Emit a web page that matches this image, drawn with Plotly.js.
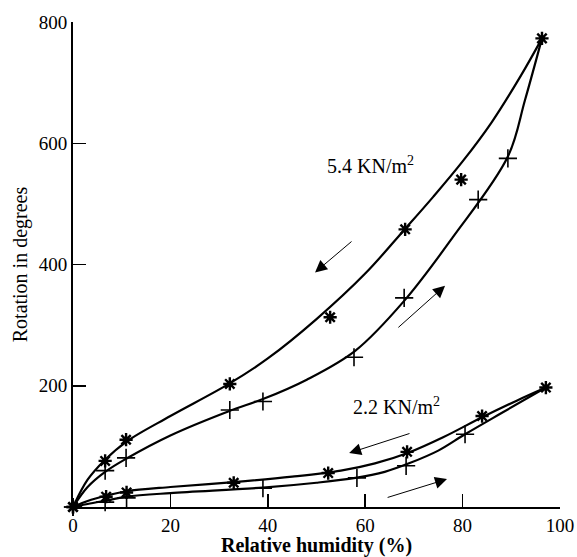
<!DOCTYPE html>
<html>
<head>
<meta charset="utf-8">
<script src="https://cdn.plot.ly/plotly-3.0.1.min.js"></script>
<style>
html,body{margin:0;padding:0;background:#fff;}
#chart{width:577px;height:557px;}
#chart svg text{font-family:'Liberation Serif','DejaVu Serif',serif !important;}
</style>
</head>
<body>
<div id="chart"></div>
<script>
var desorb54X = [0, 6.6, 10.9, 32.2, 52.8, 68.2, 79.7, 96.3];
var desorb54Y = [0, 76, 111, 203, 313, 458, 540, 773];
var absorb54X = [0, 6.6, 10.9, 32.2, 39, 57.7, 68, 83.2, 89.3];
var absorb54Y = [0, 60, 81, 160, 174, 247, 345, 507, 575];
var desorb22X = [0, 6.8, 11, 33, 52.4, 68.6, 84, 97.1];
var desorb22Y = [0, 17, 24, 40, 56, 91, 150, 197];
var absorb22X = [0, 6.6, 11, 39, 58.3, 68.4, 80.5];
var absorb22Y = [0, 8, 15, 31, 48, 68, 120];

// Fitted curves
var curveD54X = [0, 3, 6.6, 11, 20, 32, 40, 50, 60, 68, 74, 80, 86, 92, 96.3];
var curveD54Y = [0, 45, 78, 108, 150, 203, 245, 310, 385, 457, 512, 570, 635, 712, 773];
var curveA54X = [0, 3, 6.6, 11, 20, 32, 39, 48, 58, 68, 78, 89.3, 92.8, 96.3];
var curveA54Y = [0, 33, 58, 80, 118, 158, 178, 210, 258, 340, 445, 578, 671, 773];
var curveD22X = [0, 3, 7, 11, 20, 33, 45, 55, 62, 69, 76, 84, 91, 97.1];
var curveD22Y = [0, 10, 19, 26, 33, 41, 50, 60, 72, 90, 115, 148, 175, 197];
var curveA22X = [0, 3, 7, 11, 20, 39, 50, 58, 64, 69, 75, 80.5, 88, 97.1];
var curveA22Y = [0, 5, 11, 17, 23, 32, 40, 48, 58, 72, 93, 120, 155, 197];

var xTicks = [0, 20, 40, 60, 80, 100];
var yTicks = [200, 400, 600, 800];

var serif = "'Liberation Serif', 'DejaVu Serif', serif";
function curve(x, y) {
  return {x: x, y: y, mode: 'lines', line: {color: '#000', width: 2.2, shape: 'spline', smoothing: 1}, hoverinfo: 'skip', showlegend: false};
}
function marks(x, y, sym, size, w) {
  return {x: x, y: y, mode: 'markers', marker: {symbol: sym, size: size, color: '#000', line: {color: '#000', width: w}}, showlegend: false, cliponaxis: false};
}
var data = [
  curve(curveD54X, curveD54Y), curve(curveA54X, curveA54Y),
  curve(curveD22X, curveD22Y), curve(curveA22X, curveA22Y),
  marks(desorb54X, desorb54Y, 'asterisk-open', 11, 2.4),
  marks(absorb54X, absorb54Y, 'cross-thin-open', 13, 1.6),
  marks(desorb22X, desorb22Y, 'asterisk-open', 11, 2.4),
  marks(absorb22X, absorb22Y, 'cross-thin-open', 13, 1.6)
];

function arrow(x0, y0, x1, y1) {
  return {x: x1, y: y1, ax: x0, ay: y0, xref: 'x', yref: 'y', axref: 'x', ayref: 'y', text: '', showarrow: true, arrowhead: 2, arrowsize: 2.4, arrowwidth: 1, arrowcolor: '#000'};
}
var layout = {
  width: 577, height: 557,
  margin: {l: 73, r: 17, t: 22, b: 50},
  paper_bgcolor: '#fff', plot_bgcolor: '#fff',
  font: {family: serif, color: '#000', size: 19},
  xaxis: {
    range: [0, 100], tickvals: xTicks, ticktext: xTicks.map(String),
    ticks: 'inside', ticklen: 13, tickwidth: 1.5, tickcolor: '#000',
    showline: true, linecolor: '#000', linewidth: 2, showgrid: false, zeroline: false,
    tickfont: {family: serif, size: 19},
    title: {text: '<b>Relative humidity (%)</b>', font: {family: serif, size: 20}, standoff: 2}
  },
  yaxis: {
    range: [0, 800], tickvals: yTicks, ticktext: yTicks.map(String),
    ticks: 'inside', ticklen: 13, tickwidth: 1.5, tickcolor: '#000',
    showline: true, linecolor: '#000', linewidth: 2, showgrid: false, zeroline: false,
    tickfont: {family: serif, size: 19},
    title: {text: 'Rotation in degrees', font: {family: serif, size: 20}, standoff: 6}
  },
  annotations: [
    {x: 61, y: 564, xref: 'x', yref: 'y', text: '5.4 KN/m<sup>2</sup>', showarrow: false, font: {family: serif, size: 20}},
    {x: 66.5, y: 167, xref: 'x', yref: 'y', text: '2.2 KN/m<sup>2</sup>', showarrow: false, font: {family: serif, size: 20}},
    arrow(57.5, 440, 49.7, 387),
    arrow(66.5, 294, 76.4, 365),
    arrow(69.4, 122, 56.7, 89),
    arrow(64.3, 15, 76.8, 46)
  ]
};
Plotly.newPlot('chart', data, layout, {displayModeBar: false, staticPlot: true});
</script>
</body>
</html>
